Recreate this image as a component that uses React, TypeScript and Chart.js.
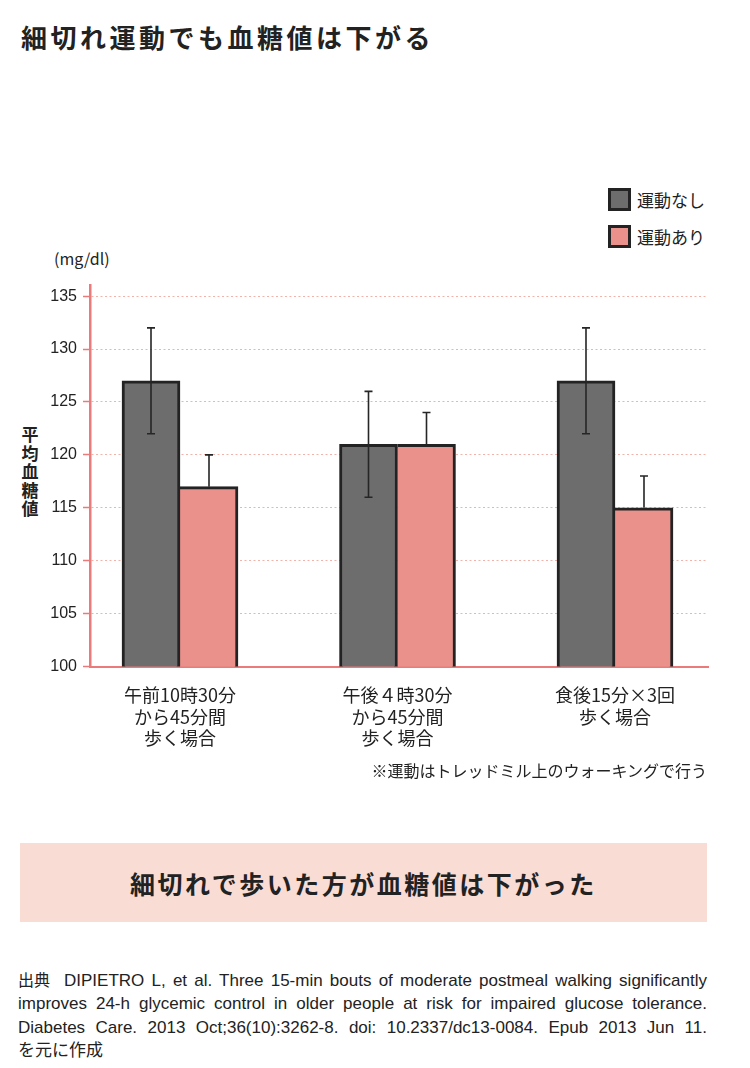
import React, { useEffect, useRef } from 'react';
import { Chart, registerables } from 'chart.js';

Chart.register(...registerables);

// ---- data ----
const categories: string[][] = [
  ['午前10時30分', 'から45分間', '歩く場合'],
  ['午後４時30分', 'から45分間', '歩く場合'],
  ['食後15分×3回', '歩く場合'],
];
const seriesNames = ['運動なし', '運動あり'];
const noExercise = [127, 121, 127];
const withExercise = [117, 121, 115];
const noExerciseErrUp = [5, 5, 5];
const noExerciseErrDown = [5, 5, 5];
const withExerciseErrUp = [3, 3, 3];
const withExerciseErrDown = [0, 0, 0];
const yTicks = [100, 105, 110, 115, 120, 125, 130, 135];

const titleText = '細切れ運動でも血糖値は下がる';
const unitText = '(mg/dl)';
const yTitleText = '平均血糖値';
const noteText = '※運動はトレッドミル上のウォーキングで行う';
const bannerText = '細切れで歩いた方が血糖値は下がった';
const sourceLabel = '出典';
const sourceLines = [
  'DIPIETRO L, et al.  Three 15-min bouts of moderate postmeal walking significantly',
  'improves 24-h glycemic control in older people at risk for impaired glucose tolerance.',
  'Diabetes Care. 2013 Oct;36(10):3262-8. doi: 10.2337/dc13-0084. Epub 2013 Jun 11.',
  'を元に作成',
];

// ---- styles ----
const DARK = '#6d6d6d';
const PINK = '#e9918a';
const BORDER = '#232323';
const AXIS = '#eb7a7a';
const GRID = '#f3b2a9';
const TEXT = '#222222';
const CJK = '"Noto Sans CJK JP", "Noto Sans", sans-serif';
const LATIN = '"Liberation Sans", Arial, sans-serif';

const values = [noExercise, withExercise];
const errUp = [noExerciseErrUp, withExerciseErrUp];
const errDown = [noExerciseErrDown, withExerciseErrDown];
const colors = [DARK, PINK];

const errorBarPlugin = {
  id: 'errorBars',
  afterDatasetsDraw(chart: any) {
    const ctx = chart.ctx;
    const y = chart.scales.y;
    ctx.save();
    ctx.strokeStyle = '#262626';
    ctx.lineWidth = 1.6;
    values.forEach((vals, d) => {
      const meta = chart.getDatasetMeta(d);
      meta.data.forEach((el: any, i: number) => {
        const v = vals[i];
        const x = el.x;
        const yt = y.getPixelForValue(v + errUp[d][i]);
        const yb = y.getPixelForValue(v - errDown[d][i]);
        ctx.beginPath();
        ctx.moveTo(x, yt);
        ctx.lineTo(x, yb);
        ctx.moveTo(x - 4, yt);
        ctx.lineTo(x + 4, yt);
        if (errDown[d][i] > 0) {
          ctx.moveTo(x - 4, yb);
          ctx.lineTo(x + 4, yb);
        }
        ctx.stroke();
      });
    });
    ctx.restore();
  },
};

function BarChart() {
  const ref = useRef<HTMLCanvasElement | null>(null);
  useEffect(() => {
    if (!ref.current) return;
    const chart = new Chart(ref.current, {
      type: 'bar',
      data: {
        datasets: values.map((vals, d) => ({
          label: seriesNames[d],
          data: vals.map((v, i) => ({ x: i, y: v })),
          backgroundColor: colors[d],
          borderColor: BORDER,
          borderWidth: 3,
          borderSkipped: d === 1 ? 'left' : false,
          barThickness: 58,
        })),
      } as any,
      options: {
        responsive: false,
        animation: false,
        devicePixelRatio: 1,
        layout: { padding: { top: 5, right: 42, left: 0, bottom: 0 } },
        plugins: { legend: { display: false }, tooltip: { enabled: false } },
        scales: {
          x: {
            type: 'linear',
            min: -0.4138,
            max: 2.4276,
            offset: false,
            grid: { display: false, drawTicks: false, offset: false },
            border: { display: true, color: AXIS, width: 2 },
            afterBuildTicks: (s: any) => {
              s.ticks = categories.map((_, i) => ({ value: i }));
            },
            afterFit: (s: any) => {
              s.height = 93.5;
            },
            ticks: {
              autoSkip: false,
              maxRotation: 0,
              minRotation: 0,
              padding: 18,
              color: TEXT,
              font: { family: CJK, size: 18, lineHeight: 1.2 },
              callback: (v: any) => categories[v] ?? '',
            },
          },
          y: {
            min: 100,
            max: 136,
            afterBuildTicks: (s: any) => {
              s.ticks = yTicks.map((v) => ({ value: v }));
            },
            afterFit: (s: any) => {
              s.width = 90;
            },
            grid: {
              color: GRID,
              lineWidth: 1,
              tickColor: AXIS,
              tickLength: 7,
              tickWidth: 1.5,
              tickBorderDash: [],
            },
            border: { display: true, color: AXIS, width: 2.5, dash: [2, 2.5] },
            ticks: {
              padding: 6,
              color: TEXT,
              font: { family: LATIN, size: 16 },
            },
          },
        },
      } as any,
      plugins: [errorBarPlugin],
    });
    return () => chart.destroy();
  }, []);
  return (
    <canvas
      ref={ref}
      width={750}
      height={490}
      style={{ position: 'absolute', left: 0, top: 270, width: 750, height: 490 }}
    />
  );
}

export default function App() {
  const abs: React.CSSProperties = { position: 'absolute', margin: 0 };
  return (
    <div style={{ position: 'absolute', left: 0, top: 0, width: 750, height: 1068, background: '#fff', color: TEXT, fontFamily: CJK, overflow: 'hidden' }}>
      <div style={{ ...abs, left: 21, top: 22, fontSize: 26, lineHeight: '30px', fontWeight: 700, letterSpacing: 3.5, whiteSpace: 'nowrap' }}>
        {titleText}
      </div>

      {seriesNames.map((name, d) => (
        <div key={name} style={{ ...abs, left: 608, top: d === 0 ? 188 : 225, height: 23, display: 'flex', alignItems: 'center' }}>
          <div style={{ width: 23, height: 23, boxSizing: 'border-box', border: `3px solid ${BORDER}`, background: colors[d] }} />
          <span style={{ marginLeft: 6, fontSize: 17, lineHeight: '23px', whiteSpace: 'nowrap' }}>{name}</span>
        </div>
      ))}

      <div style={{ ...abs, left: 54, top: 248, fontSize: 16, lineHeight: '20px', whiteSpace: 'nowrap' }}>{unitText}</div>

      <div style={{ ...abs, left: 21, top: 425, width: 18, fontSize: 17, lineHeight: '18.5px', fontWeight: 700, textAlign: 'center' }}>
        {yTitleText.split('').map((c, i) => (
          <div key={i}>{c}</div>
        ))}
      </div>

      <BarChart />

      <div style={{ ...abs, right: 43, top: 759, fontSize: 16, lineHeight: '22px', whiteSpace: 'nowrap' }}>{noteText}</div>

      <div style={{ ...abs, left: 20, top: 843, width: 687, height: 79, background: '#f9dcd4', display: 'flex', alignItems: 'center', justifyContent: 'center' }}>
        <span style={{ fontSize: 25, fontWeight: 700, letterSpacing: 2.5, whiteSpace: 'nowrap' }}>{bannerText}</span>
      </div>

      <div style={{ ...abs, left: 18, top: 968, width: 689, fontFamily: `"Liberation Sans", ${CJK}`, fontSize: 17, lineHeight: '23.3px' }}>
        {sourceLines.map((line, i) => {
          const justify = i < sourceLines.length - 1;
          return (
            <div
              key={i}
              style={{
                textAlign: justify ? 'justify' : 'left',
                textAlignLast: justify ? 'justify' : 'auto',
                whiteSpace: 'normal',
              } as React.CSSProperties}
            >
              {i === 0 ? (
                <span style={{ display: 'inline-block', fontFamily: CJK, fontSize: 16, marginRight: 14 }}>{sourceLabel}</span>
              ) : null}
              {line}
            </div>
          );
        })}
      </div>
    </div>
  );
}
